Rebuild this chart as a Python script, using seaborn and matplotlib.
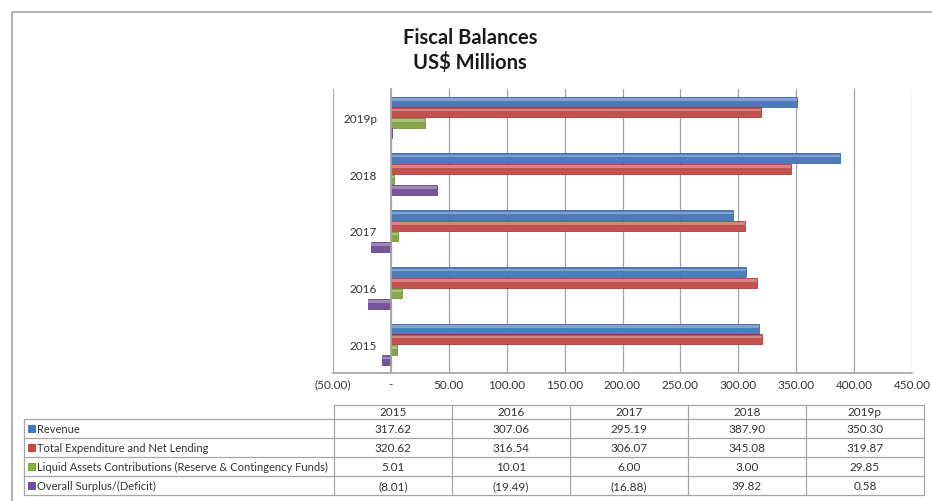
import numpy as np
import pandas as pd
import matplotlib
matplotlib.use('Agg')
import matplotlib.pyplot as plt
from matplotlib.patches import Rectangle
from matplotlib.ticker import FuncFormatter, MultipleLocator
import seaborn as sns

years = ['2015', '2016', '2017', '2018', '2019p']
series = ['Revenue',
          'Total Expenditure and Net Lending',
          'Liquid Assets Contributions (Reserve & Contingency Funds)',
          'Overall Surplus/(Deficit)']
revenue = [317.62, 307.06, 295.19, 387.90, 350.30]
expenditure = [320.62, 316.54, 306.07, 345.08, 319.87]
liquid = [5.01, 10.01, 6.00, 3.00, 29.85]
surplus = [-8.01, -19.49, -16.88, 39.82, 0.58]
colors = ['#3C78CB', '#D63F3B', '#8DB53C', '#7649A8']
edges = ['#28599E', '#A02824', '#63832A', '#52307A']

values = [revenue, expenditure, liquid, surplus]
df = pd.DataFrame([(y, s, v[i]) for s, v in zip(series, values) for i, y in enumerate(years)],
                  columns=['Year', 'Series', 'Value'])

sns.set_theme(style='white')
plt.rcParams['font.family'] = ['Lato', 'DejaVu Sans']
plt.rcParams['text.color'] = '#333333'

W, H = 932, 502
fig = plt.figure(figsize=(W / 100, H / 100), dpi=100)

# page-like frame and table layer (pixel coords)
bg = fig.add_axes([0, 0, 1, 1])
bg.set_xlim(0, W)
bg.set_ylim(H, 0)
bg.axis('off')
bg.plot([12, 12, W], [H, 13, 13], color='#A6A6A6', lw=1.2)
bg.text(470, 38, 'Fiscal Balances', ha='center', va='center', fontsize=14.5, fontweight='bold', color='#1a1a1a')
bg.text(470, 62, 'US$ Millions', ha='center', va='center', fontsize=14.5, fontweight='bold', color='#1a1a1a')

# chart
L, R, T, B = 333, 912, 90, 374
ax = fig.add_axes([L / W, 1 - B / H, (R - L) / W, (B - T) / H])
sns.barplot(data=df, y='Year', x='Value', hue='Series', order=years[::-1], hue_order=series,
            palette=colors, orient='h', width=0.74, gap=0.04, legend=False, ax=ax,
            linewidth=0.5, edgecolor='none')
for i, p in enumerate(ax.patches):
    k = i // len(years)
    p.set_edgecolor(edges[k % 4])
    x0, y0, w, h = p.get_x(), p.get_y(), p.get_width(), p.get_height()
    ax.add_patch(Rectangle((x0, y0 + h * 0.15), w, h * 0.25, facecolor='white', alpha=0.3,
                           edgecolor='none', zorder=p.get_zorder() + 0.1))

ax.set_xlim(-50, 450)
ax.xaxis.set_major_locator(MultipleLocator(50))
ax.xaxis.set_major_formatter(FuncFormatter(
    lambda v, _: '-' if abs(v) < 1e-9 else (f'({abs(v):.2f})' if v < 0 else f'{v:.2f}')))
ax.xaxis.grid(True, color='#A6A6A6', lw=0.9)
ax.set_axisbelow(True)
ax.set_xlabel('')
ax.set_ylabel('')
for s in ['top', 'right']:
    ax.spines[s].set_visible(False)
ax.spines['left'].set_position(('data', 0))
ax.spines['left'].set_color('#A6A6A6')
ax.spines['bottom'].set_color('#A6A6A6')
ax.tick_params(axis='x', length=0, pad=4, labelsize=8.5, labelcolor='#333333')
ax.tick_params(axis='y', length=0, pad=10, labelsize=8.5, labelcolor='#333333')

# data table
col_x = [334, 452, 570, 688, 806, 924]
row_y = [406, 420, 439, 458, 477, 496]
lc = '#A6A6A6'
tab_left = 24
bg.plot([col_x[0], col_x[-1]], [row_y[0], row_y[0]], color=lc, lw=0.9)
for y in row_y[1:]:
    bg.plot([tab_left, col_x[-1]], [y, y], color=lc, lw=0.9)
bg.plot([tab_left, tab_left], [row_y[1], row_y[-1]], color=lc, lw=0.9)
for x in col_x:
    bg.plot([x, x], [row_y[0], row_y[-1]], color=lc, lw=0.9)


def fmt(v):
    return f'({abs(v):.2f})' if v < 0 else f'{v:.2f}'


for j, yr in enumerate(years):
    bg.text((col_x[j] + col_x[j + 1]) / 2, (row_y[0] + row_y[1]) / 2, yr,
            ha='center', va='center', fontsize=8.5)
for i, (s, vals) in enumerate(zip(series, values)):
    yc = (row_y[i + 1] + row_y[i + 2]) / 2
    bg.add_patch(Rectangle((28, yc - 3.5), 7, 7, facecolor=colors[i], edgecolor=edges[i], lw=0.5))
    bg.text(37, yc, s, ha='left', va='center', fontsize=8)
    for j, v in enumerate(vals):
        bg.text((col_x[j] + col_x[j + 1]) / 2, yc, fmt(v), ha='center', va='center', fontsize=8.5)

fig.savefig('out.png', dpi=100)
